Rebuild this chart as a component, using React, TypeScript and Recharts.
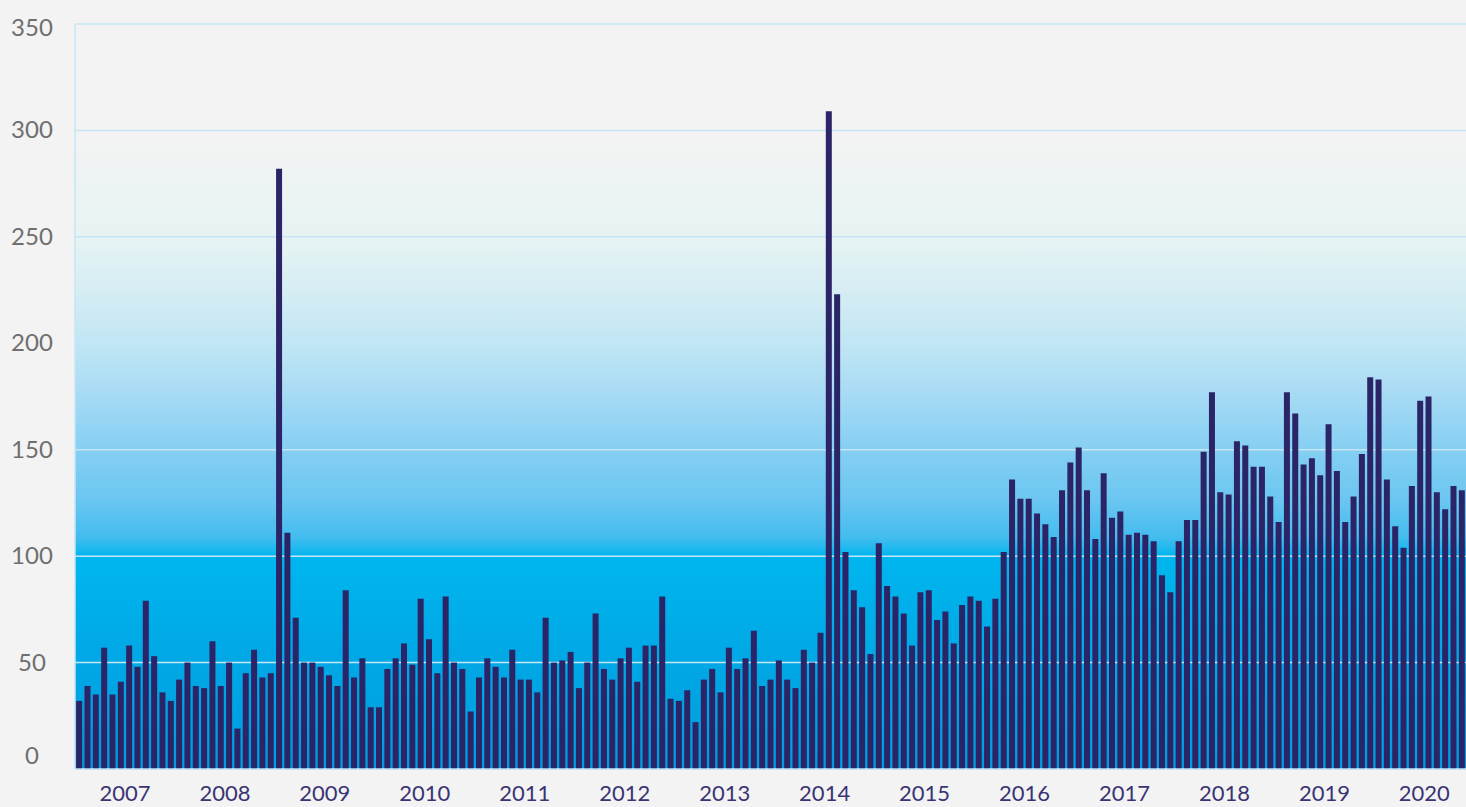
import React from "react";
import { BarChart, Bar, XAxis, YAxis, CartesianGrid } from "recharts";

const years = [2007, 2008, 2009, 2010, 2011, 2012, 2013, 2014, 2015, 2016, 2017, 2018, 2019, 2020];

const values2007 = [32, 39, 35, 57, 35, 41, 58, 48, 79, 53, 36, 32];
const values2008 = [42, 50, 39, 38, 60, 39, 50, 19, 45, 56, 43, 45];
const values2009 = [282, 111, 71, 50, 50, 48, 44, 39, 84, 43, 52, 29];
const values2010 = [29, 47, 52, 59, 49, 80, 61, 45, 81, 50, 47, 27];
const values2011 = [43, 52, 48, 43, 56, 42, 42, 36, 71, 50, 51, 55];
const values2012 = [38, 50, 73, 47, 42, 52, 57, 41, 58, 58, 81, 33];
const values2013 = [32, 37, 22, 42, 47, 36, 57, 47, 52, 65, 39, 42];
const values2014 = [51, 42, 38, 56, 50, 64, 309, 223, 102, 84, 76, 54];
const values2015 = [106, 86, 81, 73, 58, 83, 84, 70, 74, 59, 77, 81];
const values2016 = [79, 67, 80, 102, 136, 127, 127, 120, 115, 109, 131, 144];
const values2017 = [151, 131, 108, 139, 118, 121, 110, 111, 110, 107, 91, 83];
const values2018 = [107, 117, 117, 149, 177, 130, 129, 154, 152, 142, 142, 128];
const values2019 = [116, 177, 167, 143, 146, 138, 162, 140, 116, 128, 148, 184];
const values2020 = [183, 136, 114, 104, 133, 173, 175, 130, 122, 133, 131];

const yearValues = [
  values2007, values2008, values2009, values2010, values2011, values2012, values2013,
  values2014, values2015, values2016, values2017, values2018, values2019, values2020,
];

const yTicks = [0, 50, 100, 150, 200, 250, 300, 350];

const data = yearValues.flatMap((vals, yi) =>
  vals.map((v, mi) => ({ m: `${years[yi]}-${String(mi + 1).padStart(2, "0")}`, v }))
);

const xTicks = years.map((y) => `${y}-07`);

const W = 1466;
const H = 807;
const LEFT = 75;
const TOP = 24;
const BOTTOM = 38;
const BAND = (W - LEFT) / data.length;

const FONT = "Lato, 'Open Sans', sans-serif";

const YTick = (props: any) => {
  const { y, payload } = props;
  let dy = 8;
  if (payload.value === 0) dy = -5;
  if (payload.value === 350) dy = 12;
  return (
    <text x={32} y={y + dy} textAnchor="middle" fill="#6f6f6f" fontSize={24} fontFamily={FONT}>
      {payload.value}
    </text>
  );
};

const XTick = (props: any) => {
  const { x, y, payload } = props;
  return (
    <text x={x - BAND / 2} y={y + 30} textAnchor="middle" fill="#3a3473" fontSize={22} fontFamily={FONT}>
      {String(payload.value).slice(0, 4)}
    </text>
  );
};

export default function App() {
  return (
    <div style={{ position: "absolute", left: 0, top: 0, width: W, height: H, background: "#f3f3f3" }}>
      <BarChart
        width={W}
        height={H}
        data={data}
        margin={{ top: TOP, right: 0, bottom: 0, left: 0 }}
        barCategoryGap="14%"
      >
        <defs>
          <linearGradient id="bg" x1="0" y1="0" x2="0" y2="1">
            <stop offset="0" stopColor="#f3f3f3" />
            <stop offset="0.15" stopColor="#f3f3f3" />
            <stop offset="0.29" stopColor="#e6f3f3" />
            <stop offset="0.37" stopColor="#d2ecf3" />
            <stop offset="0.44" stopColor="#bde4f4" />
            <stop offset="0.5" stopColor="#a6daf4" />
            <stop offset="0.57" stopColor="#86cff3" />
            <stop offset="0.64" stopColor="#6ac6f1" />
            <stop offset="0.69" stopColor="#42bcef" />
            <stop offset="0.715" stopColor="#00b6ee" />
            <stop offset="0.83" stopColor="#00aae6" />
            <stop offset="1" stopColor="#009cdd" />
          </linearGradient>
        </defs>
        <CartesianGrid vertical={false} stroke="#c6e6f7" strokeWidth={1.5} fill="url(#bg)" />
        <XAxis
          dataKey="m"
          ticks={xTicks}
          interval={0}
          height={BOTTOM}
          tickLine={false}
          tickSize={0}
          tick={<XTick />}
          axisLine={{ stroke: "#bfe3f6", strokeWidth: 1.5 }}
        />
        <YAxis
          width={LEFT}
          domain={[0, 350]}
          ticks={yTicks}
          interval={0}
          tickLine={false}
          tick={<YTick />}
          axisLine={{ stroke: "#c6e6f7", strokeWidth: 1.5 }}
        />
        <Bar dataKey="v" fill="#2b2467" isAnimationActive={false} />
      </BarChart>
    </div>
  );
}
